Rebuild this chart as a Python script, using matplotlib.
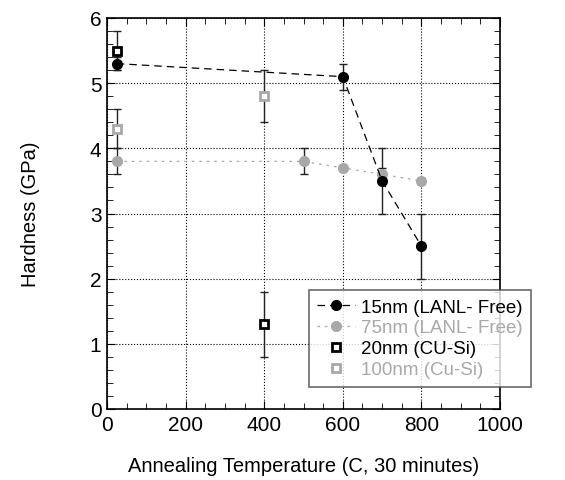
import matplotlib.pyplot as plt
from matplotlib.ticker import MultipleLocator

plt.rcParams['font.family'] = ['Liberation Sans', 'DejaVu Sans']

# 15nm (LANL- Free)
t15 = [25, 600, 700, 800]
h15 = [5.3, 5.1, 3.5, 2.5]
e15 = [0.1, 0.2, 0.5, 0.5]

# 75nm (LANL- Free)
t75 = [25, 500, 600, 700, 800]
h75 = [3.8, 3.8, 3.7, 3.6, 3.5]
e75 = [0.2, 0.2, 0.05, 0.1, 0.05]

# 20nm (CU-Si)
t20 = [25, 400]
h20 = [5.5, 1.3]
e20 = [0.3, 0.5]

# 100nm (Cu-Si)
t100 = [25, 400]
h100 = [4.3, 4.8]
e100 = [0.3, 0.4]

grey = '#a8a8a8'

fig = plt.figure(figsize=(5.65, 4.81), dpi=100)
ax = fig.add_axes([107 / 565, 71 / 481, 393 / 565, 391 / 481])

for t, h, e in [(t15, h15, e15), (t75, h75, e75), (t20, h20, e20), (t100, h100, e100)]:
    ax.errorbar(t, h, yerr=e, fmt='none', ecolor='#222222', elinewidth=1, capsize=3, zorder=2)

ax.plot(t15, h15, color='black', linestyle=(0, (6, 4)), linewidth=0.9,
        marker='o', markersize=7, label='15nm (LANL- Free)', zorder=4)
ax.plot(t75, h75, color=grey, linestyle=(0, (2, 4)), linewidth=0.9,
        marker='o', markersize=7, label='75nm (LANL- Free)', zorder=3)
ax.plot(t20, h20, linestyle='none', marker='s', markersize=6, markerfacecolor='white',
        markeredgecolor='black', markeredgewidth=2, label='20nm (CU-Si)', zorder=4)
ax.plot(t100, h100, linestyle='none', marker='s', markersize=6, markerfacecolor='white',
        markeredgecolor=grey, markeredgewidth=2, label='100nm (Cu-Si)', zorder=4)

ax.set_xlim(0, 1000)
ax.set_ylim(0, 6)
ax.xaxis.set_major_locator(MultipleLocator(200))
ax.xaxis.set_minor_locator(MultipleLocator(50))
ax.yaxis.set_major_locator(MultipleLocator(1))
ax.yaxis.set_minor_locator(MultipleLocator(0.2))
ax.tick_params(which='both', direction='in', top=True, right=True, labelsize=15)
ax.tick_params(which='major', length=6, pad=4)
ax.tick_params(which='minor', length=4)
ax.grid(True, which='major', color='black', linestyle=':', linewidth=0.8)
for s in ax.spines.values():
    s.set_linewidth(1.2)

ax.set_xlabel('Annealing Temperature (C, 30 minutes)', fontsize=14.5, labelpad=16)
ax.set_ylabel('Hardness (GPa)', fontsize=14.5, labelpad=36)

leg = ax.legend(loc='upper left', bbox_to_anchor=(309 / 565, 1 - 291 / 481),
                bbox_transform=fig.transFigure, fontsize=13.5, frameon=True,
                fancybox=False, edgecolor='#444444', handlelength=2.0, borderpad=0.45,
                labelspacing=0.2, handletextpad=0.3, borderaxespad=0)
leg.get_frame().set_linewidth(1.2)
for txt, c in zip(leg.get_texts(), ['black', grey, 'black', grey]):
    txt.set_color(c)

fig.savefig('out.png', dpi=100)
